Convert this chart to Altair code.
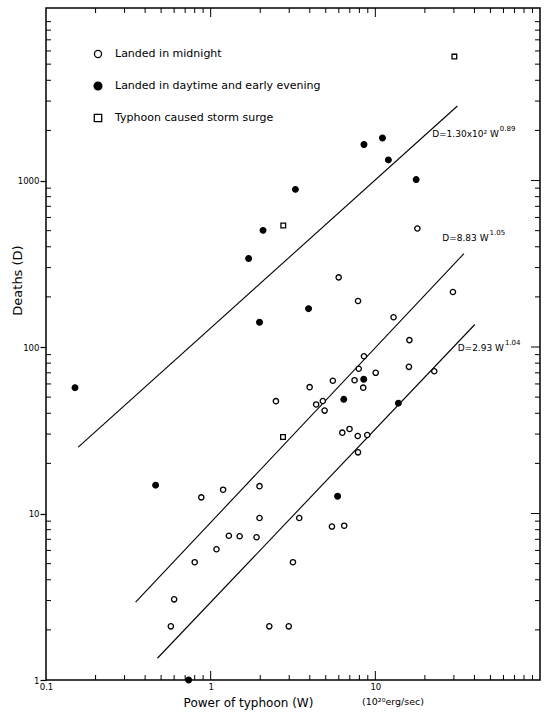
import math

import altair as alt
import pandas as pd

# Typhoon power W (10^20 erg/sec) and deaths D, by landing time
night_w = [18.0, 5.99, 7.85, 29.6, 12.9, 16.1, 8.53, 7.93, 10.05, 16.0, 22.8, 5.52, 7.48,
           8.44, 3.99, 2.49, 4.8, 4.37, 4.92, 6.3, 6.97, 7.82, 8.93, 7.85, 0.877, 1.19,
           1.98, 1.98, 3.45, 1.29, 1.5, 1.9, 5.45, 6.47, 1.085, 0.8, 3.16, 0.60, 0.573,
           2.27, 2.98]
night_d = [515, 262, 189, 214, 151, 110, 88, 74, 70, 76, 71.5, 62.7, 63.2,
           57, 57.4, 47.3, 47.4, 45.2, 41.5, 30.6, 32.2, 29.2, 29.6, 23.3, 12.5, 13.9,
           14.6, 9.4, 9.4, 7.35, 7.3, 7.2, 8.35, 8.45, 6.1, 5.1, 5.1, 3.05, 2.1,
           2.1, 2.1]

day_w = [8.53, 11.05, 12.0, 17.7, 3.27, 2.08, 1.70, 3.93, 1.98, 0.150, 8.5, 6.43, 13.8,
         0.463, 5.9, 0.735]
day_d = [1645, 1800, 1330, 1013, 885, 502, 340, 170, 141, 57, 64, 48.5, 46,
         14.8, 12.7, 1.0]

surge_w = [30.2, 2.76, 2.75]
surge_d = [5550, 537, 28.8]

categories = ["Landed in midnight", "Landed in daytime and early evening",
              "Typhoon caused storm surge"]
cat_shape = ["circle", "circle", "square"]
cat_fill = ["white", "black", "white"]
cat_size = [28, 32, 22]

# Fitted power laws D = a * W^b over the range of W each one covers
fit_a = [130.0, 8.83, 2.93]
fit_b = [0.89, 1.05, 1.04]
fit_w_lo = [0.157, 0.35, 0.475]
fit_w_hi = [31.5, 34.5, 40.2]
fit_text = ["D=1.30x10\u00b2 W", "D=8.83 W", "D=2.93 W"]
fit_exp = ["0.89", "1.05", "1.04"]
label_w = [56.2, 48.7, 60.4]
label_d = [1914, 450, 99]

# Axis tick values on the log scales
x_labels = [0.1, 1, 10]
y_labels = [1, 10, 100, 1000]
x_major = [1, 10]
y_major = [10, 100, 1000]
x_minor = [m * 10.0 ** k for k in (-1, 0, 1) for m in range(2, 10)]
y_minor = [m * 10.0 ** k for k in (0, 1, 2, 3) for m in range(2, 10)]

FONT = "DejaVu Sans"
NARROW = "Liberation Sans Narrow, DejaVu Sans Condensed, Liberation Sans, sans-serif"
PW, PH = 494, 672
X_DOM = [0.1, 100]
Y_DOM = [1, 10870]

points = pd.DataFrame(
    {"W": night_w + day_w + surge_w,
     "D": night_d + day_d + surge_d,
     "type": [categories[0]] * len(night_w) + [categories[1]] * len(day_w)
             + [categories[2]] * len(surge_w)})

fit_rows = []
for i in range(3):
    for w in (fit_w_lo[i], fit_w_hi[i]):
        fit_rows.append({"fit": i, "W": w, "D": fit_a[i] * w ** fit_b[i]})
fits = pd.DataFrame(fit_rows)

labels = pd.DataFrame({"W": label_w, "D": label_d, "base": fit_text, "exp": fit_exp})

xs = alt.Scale(type="log", domain=X_DOM, nice=False)
ys = alt.Scale(type="log", domain=Y_DOM, nice=False)

x_axis = alt.Axis(values=x_labels, labelExpr="'' + datum.value", ticks=False, domain=False,
                  grid=False, labelFontSize=9.5, labelPadding=1, labelFont=NARROW,
                  labelColor="black", labelFlush=False, labelOverlap=False,
                  title="Power of typhoon (W)", titleFont=FONT,
                  titleFontSize=12, titleFontWeight="normal", titleColor="black",
                  titleX=202, titleY=22, titleAlign="center", titleBaseline="middle")
y_axis = alt.Axis(values=y_labels, labelExpr="'' + datum.value", tickSize=6, tickColor="black",
                  tickWidth=1.2, domain=False, grid=False, labelFontSize=9.5, labelPadding=1,
                  labelFont=NARROW, labelColor="black", labelFlush=False, labelOverlap=False,
                  title="Deaths (D)", titleFont=FONT,
                  titleFontSize=13, titleFontWeight="normal", titleColor="black",
                  titleX=-29, titleY=272, titleAngle=270, titleAlign="center",
                  titleBaseline="middle")


def enc_x(field="W"):
    return alt.X(f"{field}:Q", scale=xs, axis=None)


def enc_y(field="D"):
    return alt.Y(f"{field}:Q", scale=ys, axis=None)


# The fitted lines carry the labelled axes; every other layer shares their scales
fit_lines = alt.Chart(fits).mark_line(color="black", strokeWidth=1.1).encode(
    x=alt.X("W:Q", scale=xs, axis=x_axis),
    y=alt.Y("D:Q", scale=ys, axis=y_axis),
    detail="fit:N")

dot_layers = []
for i, cat in enumerate(categories):
    sub = points[points["type"] == cat]
    dot_layers.append(
        alt.Chart(sub).mark_point(shape=cat_shape[i], fill=cat_fill[i], stroke="black",
                                  strokeWidth=1.3, size=cat_size[i], opacity=1,
                                  fillOpacity=1).encode(x=enc_x(), y=enc_y()))

fit_base = alt.Chart(labels).mark_text(align="right", baseline="middle", fontSize=9,
                                       font=FONT, color="black").encode(
    x=enc_x(), y=enc_y(), text="base:N")
fit_power = alt.Chart(labels).mark_text(align="left", baseline="middle", fontSize=7,
                                        dx=1, dy=-5, font=FONT, color="black").encode(
    x=enc_x(), y=enc_y(), text="exp:N")

# Inward frame ticks as short two-point segments; `px` pixels span this many decades
x_px = PW / (math.log10(X_DOM[1]) - math.log10(X_DOM[0]))
y_px = PH / (math.log10(Y_DOM[1]) - math.log10(Y_DOM[0]))
tick_rows = []


def add_side(values, along, edge, px, per_decade, inward):
    step = 10 ** (px / per_decade)
    end = edge * step if inward > 0 else edge / step
    for v in values:
        tid = len(tick_rows)
        for k, e in enumerate((edge, end)):
            if along == "y":
                tick_rows.append({"id": tid, "k": k, "W": e, "D": v})
            else:
                tick_rows.append({"id": tid, "k": k, "W": v, "D": e})


add_side(y_minor, "y", X_DOM[0], 5, x_px, 1)
add_side(y_minor, "y", X_DOM[1], 5, x_px, -1)
add_side(y_major, "y", X_DOM[1], 9, x_px, -1)
add_side(x_minor, "x", Y_DOM[0], 5, y_px, 1)
add_side(x_major, "x", Y_DOM[0], 9, y_px, 1)
add_side(x_minor, "x", Y_DOM[1], 5, y_px, -1)
add_side(x_major, "x", Y_DOM[1], 9, y_px, -1)

frame_ticks = alt.Chart(pd.DataFrame(tick_rows)).mark_line(
    color="black", strokeWidth=1).encode(
    x=enc_x(), y=enc_y(), detail="id:N", order="k:Q")

# Key in the upper left corner
key_layers = []
for i, cat in enumerate(categories):
    row = pd.DataFrame({"label": [cat]})
    ky = 46 + 32 * i
    key_layers.append(
        alt.Chart(row).mark_point(shape=cat_shape[i], fill=cat_fill[i], stroke="black",
                                  strokeWidth=1.3, size=[50, 60, 55][i], opacity=1,
                                  fillOpacity=1).encode(
            x=alt.value(52), y=alt.value(ky)))
    key_layers.append(
        alt.Chart(row).mark_text(align="left", baseline="middle", fontSize=11, font=FONT,
                                 color="black").encode(
            x=alt.value(69), y=alt.value(ky), text="label:N"))

unit = alt.Chart(pd.DataFrame({"t": ["(10\u00b2\u2070erg/sec)"]})).mark_text(
    align="center", baseline="middle", fontSize=9.5, font=FONT, color="black").encode(
    text="t:N", x=alt.value(347), y=alt.value(PH + 22))

chart = alt.layer(fit_lines, frame_ticks, fit_base, fit_power, unit,
                  *key_layers, *dot_layers).resolve_axis(
    x="independent", y="independent"
).properties(
    width=PW, height=PH,
    autosize=alt.AutoSizeParams(type="none"),
    padding={"left": 46, "top": 8, "right": 5, "bottom": 33},
    background="white",
).configure_view(stroke="black", strokeWidth=1.5)

chart.save("out.html", embed_options={"renderer": "svg", "actions": False})
